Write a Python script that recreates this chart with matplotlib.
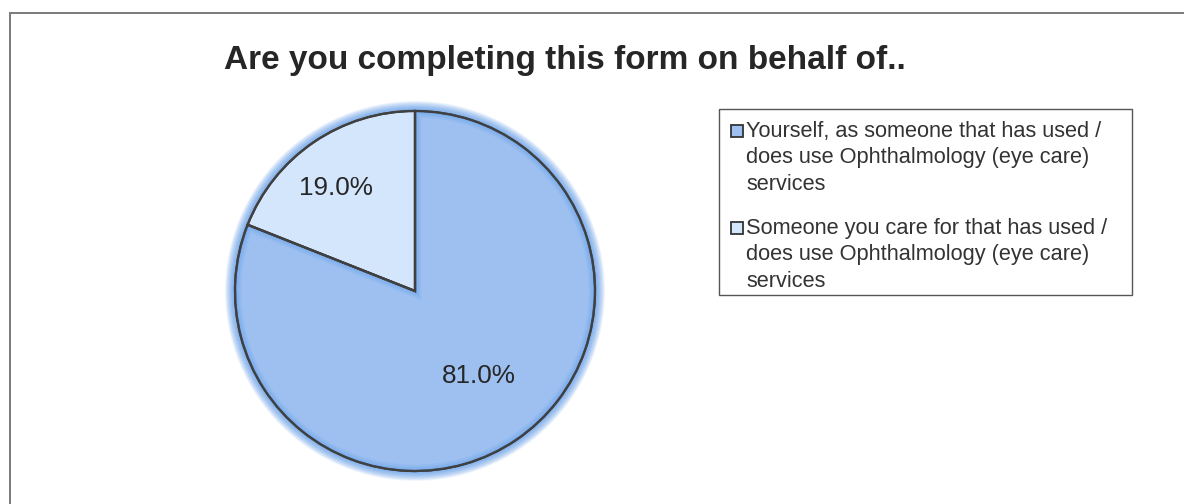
import textwrap

import matplotlib

matplotlib.use("Agg")
import matplotlib.pyplot as plt
from matplotlib.patches import Circle, Rectangle, Wedge

plt.rcParams["font.family"] = ["Liberation Sans", "DejaVu Sans"]

TITLE = "Are you completing this form on behalf of.."
categories = [
    "Yourself, as someone that has used / does use Ophthalmology (eye care) services",
    "Someone you care for that has used / does use Ophthalmology (eye care) services",
]
shares = [81.0, 19.0]
slice_colors = ["#9DC0F1", "#D4E6FC"]

W, H = 1184, 504
EDGE = "#404040"
GLOW = "#4A8FE6"


def fx(px):
    return px / W


def fy(py):
    return (H - py) / H


fig = plt.figure(figsize=(W / 100, H / 100), dpi=100)
fig.patch.set_facecolor("white")

# outer chart frame (runs off the right/bottom edge)
fig.patches.append(
    Rectangle((fx(10), fy(H + 20)), fx(W + 20) - fx(10), fy(13) - fy(H + 20),
              transform=fig.transFigure, fill=False, edgecolor="#7a7a7a", linewidth=1.4)
)

fig.text(fx(565), fy(57), TITLE, ha="center", va="center_baseline",
         fontsize=24, fontweight="bold", color="#262626")

# pie axes: centre (415, 291) px, radius 180 px
ax = fig.add_axes([fx(215), fy(491), 400 / W, 400 / H])
ax.set_aspect("equal")
ax.axis("off")

# soft glow around the pie
n = 12
for k in range(n):
    ax.add_patch(Circle((0, 0), 1.0 + 0.055 * (n - k) / n, facecolor=GLOW,
                        edgecolor="none", alpha=0.09, zorder=1))

wedges, texts, autotexts = ax.pie(
    shares,
    colors=slice_colors,
    startangle=90,
    counterclock=False,
    autopct="%1.1f%%",
    pctdistance=0.6,
    radius=1.0,
    wedgeprops={"edgecolor": EDGE, "linewidth": 1.6, "zorder": 3},
    textprops={"fontsize": 18.8, "color": "#262626"},
)
ax.set_xlim(-200 / 180, 200 / 180)
ax.set_ylim(-200 / 180, 200 / 180)

# inner glow along the edges of the large slice
w0 = wedges[0]
for lw, a in [(9, 0.12), (6, 0.15), (3, 0.2)]:
    g = Wedge(w0.center, w0.r, w0.theta1, w0.theta2, facecolor="none",
              edgecolor=GLOW, linewidth=lw, alpha=a, zorder=3.5)
    ax.add_patch(g)
    g.set_clip_path(w0)
for w in wedges:
    ax.add_patch(Wedge(w.center, w.r, w.theta1, w.theta2, facecolor="none",
                       edgecolor=EDGE, linewidth=1.6, zorder=4))

for t, (x, y) in zip(autotexts, [(0.356, -0.472), (-0.439, 0.572)]):
    t.set_position((x, y))
    t.set_zorder(5)

# legend box
fig.patches.append(
    Rectangle((fx(719), fy(295)), fx(1132) - fx(719), fy(109) - fy(295),
              transform=fig.transFigure, fill=False, edgecolor="#555555", linewidth=1.0)
)
line_h = 26.7
y0 = 131
for label, col in zip(categories, slice_colors):
    lines = textwrap.wrap(label, width=36)
    fig.patches.append(
        Rectangle((fx(731), fy(y0 + 6)), fx(743) - fx(731), fy(y0 - 6) - fy(y0 + 6),
                  transform=fig.transFigure, facecolor=col, edgecolor="#333333", linewidth=1.3)
    )
    for i, ln in enumerate(lines):
        fig.text(fx(746), fy(y0 + i * line_h), ln, ha="left", va="center",
                 fontsize=15.7, color="#333333")
    y0 += len(lines) * line_h + 17

fig.savefig("out.png", dpi=100)
